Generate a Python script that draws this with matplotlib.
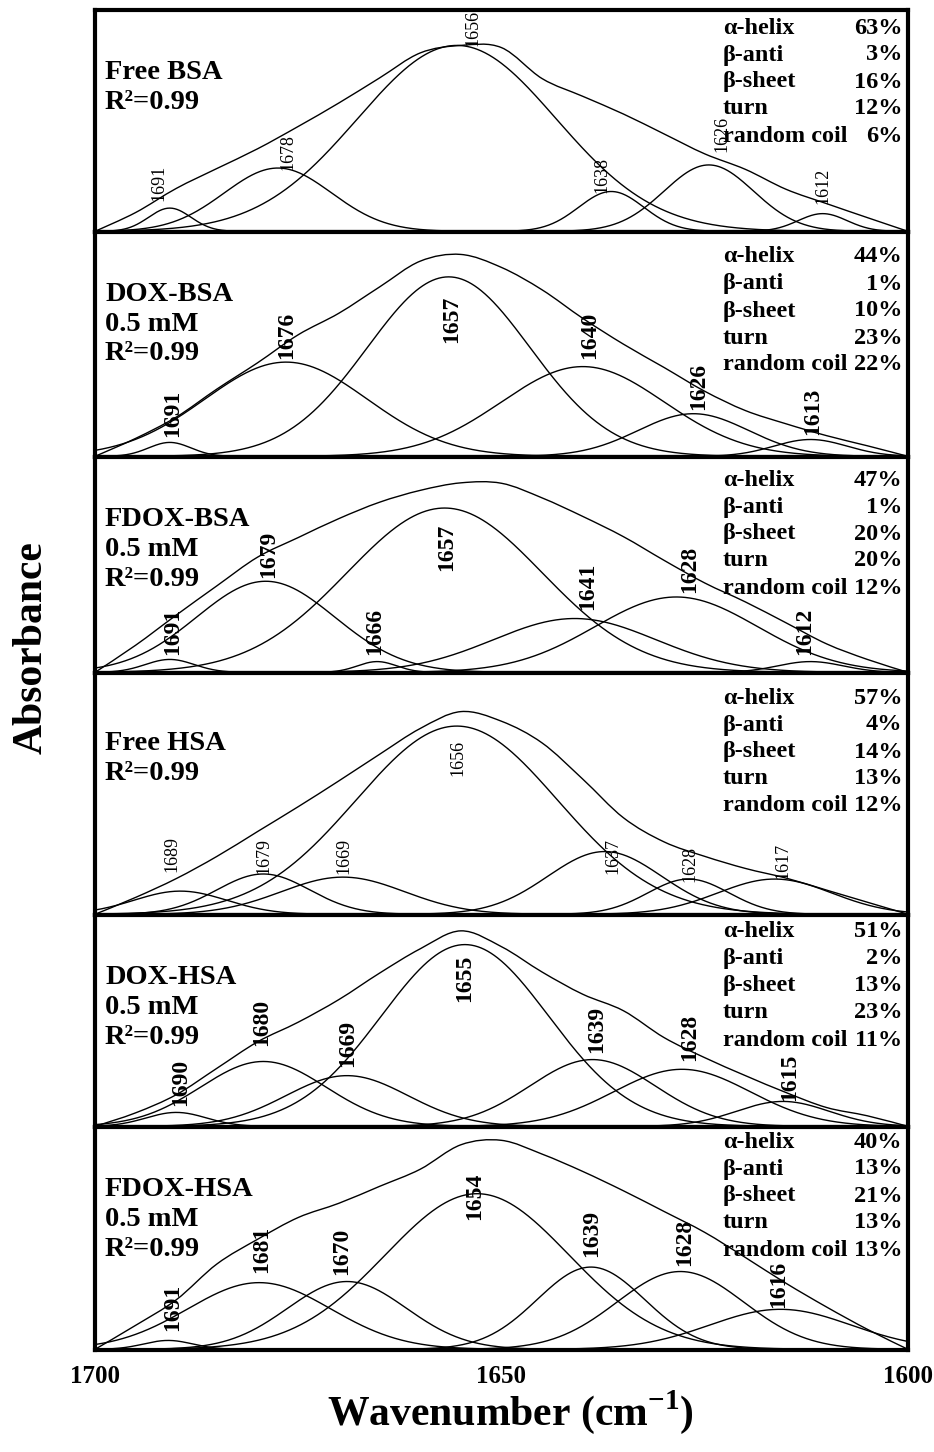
import numpy as np
import matplotlib
matplotlib.use("Agg")
import matplotlib.pyplot as plt
from matplotlib.path import Path
from matplotlib.patches import PathPatch

plt.rcParams['font.family'] = ['Liberation Serif', 'DejaVu Serif']
plt.rcParams['mathtext.fontset'] = 'custom'
plt.rcParams['mathtext.rm'] = 'Liberation Serif'
plt.rcParams['mathtext.bf'] = 'Liberation Serif:bold'

# panel titles and secondary structure content (%)
titles = ["Free BSA\nR²=0.99", "DOX-BSA\n0.5 mM\nR²=0.99", "FDOX-BSA\n0.5 mM\nR²=0.99",
          "Free HSA\nR²=0.99", "DOX-HSA\n0.5 mM\nR²=0.99", "FDOX-HSA\n0.5 mM\nR²=0.99"]
structures = ["α-helix", "β-anti", "β-sheet", "turn", "random coil"]
percents = [[63, 3, 16, 12, 6],
            [44, 1, 10, 23, 22],
            [47, 1, 20, 20, 12],
            [57, 4, 14, 13, 12],
            [51, 2, 13, 23, 11],
            [40, 13, 21, 13, 13]]

# fitted component bands: centre (cm-1), height, width (sigma, cm-1)
centers = [[1690.8, 1677.5, 1655.5, 1636.5, 1624.5, 1610.5],
           [1690.8, 1676.5, 1656.5, 1640.0, 1626.4, 1612.0],
           [1690.8, 1679.0, 1665.3, 1657.0, 1641.0, 1628.5, 1612.0],
           [1689.5, 1679.3, 1669.5, 1655.5, 1637.3, 1627.0, 1616.4],
           [1690.0, 1679.3, 1669.0, 1654.5, 1638.8, 1627.8, 1615.4],
           [1691.0, 1679.8, 1669.0, 1653.0, 1639.0, 1628.0, 1615.7]]
heights = [[0.105, 0.286, 0.84, 0.18, 0.30, 0.08],
           [0.062, 0.42, 0.80, 0.40, 0.19, 0.075],
           [0.06, 0.423, 0.05, 0.763, 0.25, 0.35, 0.05],
           [0.096, 0.167, 0.154, 0.78, 0.26, 0.146, 0.146],
           [0.066, 0.307, 0.24, 0.86, 0.316, 0.27, 0.118],
           [0.04, 0.30, 0.305, 0.70, 0.37, 0.35, 0.18]]
widths = [[2.6, 6.6, 12.2, 4.0, 5.5, 3.0],
          [2.6, 10.0, 10.0, 10.0, 6.8, 4.5],
          [3.0, 8.5, 2.4, 12.0, 10.0, 10.0, 4.0],
          [5.7, 5.7, 7.6, 12.4, 7.0, 5.0, 7.0],
          [3.7, 7.7, 7.5, 10.3, 7.7, 8.4, 5.7],
          [3.0, 8.8, 7.3, 11.3, 6.6, 7.8, 8.7]]

# peak labels
peak_text = [["1691", "1678", "1656", "1638", "1626", "1612"],
             ["1691", "1676", "1657", "1640", "1626", "1613"],
             ["1691", "1679", "1666", "1657", "1641", "1628", "1612"],
             ["1689", "1679", "1669", "1656", "1637", "1628", "1617"],
             ["1690", "1680", "1669", "1655", "1639", "1628", "1615"],
             ["1691", "1681", "1670", "1654", "1639", "1628", "1616"]]
peak_lx = [[1692.2, 1676.3, 1653.5, 1637.6, 1622.9, 1610.5],
           [1690.4, 1676.4, 1656.1, 1639.1, 1625.8, 1611.7],
           [1690.4, 1678.7, 1665.6, 1656.7, 1639.4, 1626.9, 1612.7],
           [1690.5, 1679.2, 1669.4, 1655.4, 1636.3, 1626.8, 1615.4],
           [1689.5, 1679.5, 1668.9, 1654.5, 1638.3, 1626.9, 1614.5],
           [1690.4, 1679.5, 1669.7, 1653.3, 1638.9, 1627.5, 1615.9]]
peak_ly = [[0.22, 0.36, 0.92, 0.255, 0.44, 0.205],
           [0.19, 0.54, 0.61, 0.54, 0.31, 0.20],
           [0.19, 0.55, 0.19, 0.58, 0.40, 0.48, 0.19],
           [0.25, 0.24, 0.24, 0.65, 0.24, 0.21, 0.22],
           [0.21, 0.49, 0.39, 0.70, 0.46, 0.42, 0.23],
           [0.19, 0.45, 0.44, 0.69, 0.52, 0.48, 0.29]]

# measured amide I envelope, read every 5 cm-1 from 1700 to 1600
env_wn = [1700, 1695, 1690, 1685, 1680, 1675, 1670, 1665, 1660, 1655, 1650,
          1645, 1640, 1635, 1630, 1625, 1620, 1615, 1610, 1605, 1600]
envelopes = [[0, 0.085, 0.194, 0.284, 0.373, 0.474, 0.58, 0.693, 0.806, 0.84, 0.83,
              0.69, 0.61, 0.53, 0.44, 0.35, 0.28, 0.19, 0.125, 0.062, 0],
             [0, 0.08, 0.175, 0.30, 0.417, 0.542, 0.638, 0.755, 0.87, 0.90, 0.842,
              0.742, 0.615, 0.50, 0.396, 0.29, 0.204, 0.145, 0.092, 0.047, 0],
             [0, 0.126, 0.266, 0.402, 0.535, 0.626, 0.714, 0.79, 0.845, 0.88, 0.878,
              0.81, 0.724, 0.63, 0.52, 0.415, 0.327, 0.23, 0.132, 0.06, 0],
             [0, 0.07, 0.148, 0.24, 0.343, 0.446, 0.553, 0.663, 0.77, 0.84, 0.80,
              0.71, 0.56, 0.40, 0.30, 0.24, 0.19, 0.15, 0.10, 0.05, 0],
             [0, 0.064, 0.15, 0.275, 0.40, 0.493, 0.60, 0.725, 0.84, 0.925, 0.85,
              0.73, 0.625, 0.547, 0.42, 0.325, 0.24, 0.16, 0.089, 0.05, 0],
             [0, 0.108, 0.223, 0.384, 0.495, 0.593, 0.657, 0.733, 0.81, 0.92, 0.94,
              0.878, 0.80, 0.713, 0.62, 0.526, 0.413, 0.297, 0.19, 0.09, 0]]

bold_labels = [False, True, True, False, True, True]


def smooth_path(xs, ys):
    # Catmull-Rom through the read points, as cubic Bezier segments
    p = np.column_stack([xs, ys]).astype(float)
    p = np.vstack([p[0], p, p[-1]])
    verts = [p[1]]
    codes = [Path.MOVETO]
    for k in range(1, len(p) - 2):
        c1 = p[k] + (p[k + 1] - p[k - 1]) / 6
        c2 = p[k + 1] - (p[k + 2] - p[k]) / 6
        verts += [c1, c2, p[k + 1]]
        codes += [Path.CURVE4] * 3
    return Path(verts, codes)


W, H = 934, 1452
fig = plt.figure(figsize=(W / 100, H / 100), dpi=100)

# panel edges in pixels (top -> bottom)
edges = [10, 232, 457, 673, 915, 1127, 1350]
left_px, right_px = 95, 908

x = np.linspace(1700, 1600, 1001)

for i in range(6):
    top, bot = edges[i], edges[i + 1]
    ax = fig.add_axes([left_px / W, 1 - bot / H, (right_px - left_px) / W, (bot - top) / H])
    h_px = bot - top

    for c, hgt, s in zip(centers[i], heights[i], widths[i]):
        ax.plot(x, hgt * np.exp(-(x - c) ** 2 / (2 * s ** 2)), color="black", lw=1.0)
    ax.add_patch(PathPatch(smooth_path(env_wn, envelopes[i]), fill=False,
                           edgecolor="black", lw=1.0))

    fw = "bold" if bold_labels[i] else "normal"
    fs = 17 if bold_labels[i] else 13
    for t, lx, ly in zip(peak_text[i], peak_lx[i], peak_ly[i]):
        ax.text(lx, ly, t, rotation=90, ha="center", va="center",
                fontsize=fs, fontweight=fw)

    ax.annotate(titles[i], xy=(0, 1), xycoords="axes fraction",
                xytext=(10, -50 if i != 3 else -58), textcoords="offset pixels",
                ha="left", va="top", fontsize=20.5, fontweight="bold", linespacing=1.25)

    row0 = [18, 25, 23, 25, 17, 15][i]
    for k, (name, p) in enumerate(zip(structures, percents[i])):
        yy = 1 - (row0 + 27 * k) / h_px
        ax.text(0.772, yy, name, transform=ax.transAxes, ha="left", va="center",
                fontsize=17.5, fontweight="bold")
        ax.text(0.993, yy, f"{p}%", transform=ax.transAxes, ha="right", va="center",
                fontsize=17.5, fontweight="bold")

    ax.set_xlim(1700, 1600)
    ax.set_ylim(-0.003, 1)
    ax.set_yticks([])
    for sp in ax.spines.values():
        sp.set_linewidth(3)
    if i < 5:
        ax.set_xticks([])
    else:
        ax.set_xticks([1700, 1650, 1600])
        ax.set_xticklabels(["1700", "1650", "1600"], fontsize=18, fontweight="bold")
        ax.tick_params(axis="x", length=0, pad=11)

fig.text(510 / W, 1 - 1412 / H, "Wavenumber (cm$^{\\mathbf{-1}}$)", ha="center",
         va="center", fontsize=30, fontweight="bold")
fig.text(32 / W, 1 - 648 / H, "Absorbance", rotation=90, ha="center", va="center",
         fontsize=30, fontweight="bold")

fig.savefig("out.png", dpi=100)
